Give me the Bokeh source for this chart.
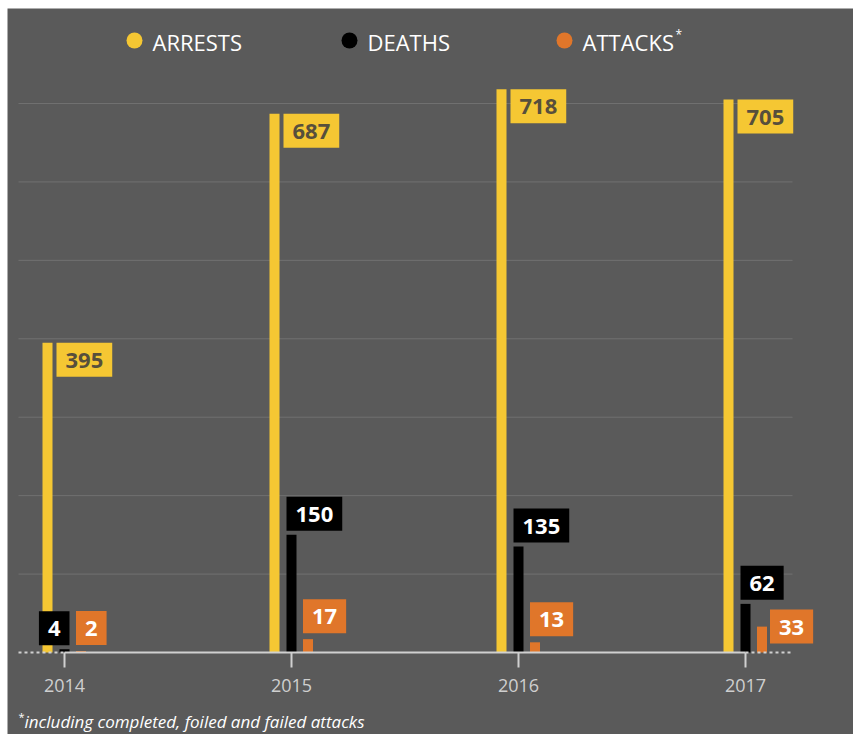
from bokeh.plotting import figure
from bokeh.models import Range1d, Label
from bokeh.embed import file_html
from bokeh.resources import INLINE

# ---------------- data ----------------
years = [2014, 2015, 2016, 2017]
arrests = [395, 687, 718, 705]
deaths = [4, 150, 135, 62]
attacks = [2, 17, 13, 33]
series_names = ["ARRESTS", "DEATHS", "ATTACKS"]
grid_values = [100, 200, 300, 400, 500, 600, 700]
footnote_text = "including completed, foiled and failed attacks"

# ---------------- style / layout (page pixels) ----------------
BG = "#5a5a5a"
GRID = "#717171"
YELLOW = "#f5c733"
BLACK = "#000000"
ORANGE = "#e0762a"
AXIS_GREY = "#d0d0d0"
FONT = "Open Sans"

W, H = 853, 734
M_TOP, M_LEFT = 8, 7
GRID_L, GRID_R = 18, 792
BASE_PX = 652          # pixel row of value 0
PX_PER_UNIT = 0.7843   # vertical pixels per value unit
X0_PX, YEAR_PX = 64, 227
BAR_PX = 10
OFFSETS_PX = [-17, 0, 16.5]


def xd(px):
    return years[0] + (px - X0_PX) / YEAR_PX


def yd(py):
    return (BASE_PX - py) / PX_PER_UNIT


p = figure(
    width=W - M_LEFT, height=H - M_TOP, margin=(M_TOP, 0, 0, M_LEFT),
    x_range=Range1d(xd(M_LEFT), xd(W)), y_range=Range1d(yd(H), yd(M_TOP)),
    output_backend="svg", toolbar_location=None,
    min_border=0, min_border_left=0, min_border_right=0,
    min_border_top=0, min_border_bottom=0,
    background_fill_color=BG, border_fill_color=BG,
)
p.outline_line_color = None
p.xaxis.visible = False
p.yaxis.visible = False
p.xgrid.visible = False
p.ygrid.visible = False

# horizontal grid lines
p.segment(x0=[xd(GRID_L)] * len(grid_values), x1=[xd(GRID_R)] * len(grid_values),
          y0=grid_values, y1=grid_values, line_color=GRID, line_width=1)

series = [arrests, deaths, attacks]
colors = [YELLOW, BLACK, ORANGE]
bar_w = BAR_PX / YEAR_PX
for vals, off, col in zip(series, OFFSETS_PX, colors):
    xs = [y + off / YEAR_PX for y in years]
    p.vbar(x=xs, top=vals, bottom=0, width=bar_w, fill_color=col, line_color=None)

# baseline: solid between first and last year, dotted outside
p.segment(x0=[years[0]], x1=[years[-1]], y0=[0], y1=[0], line_color=AXIS_GREY, line_width=2)
p.segment(x0=[xd(GRID_L), years[-1]], x1=[years[0], xd(GRID_R)], y0=[0, 0], y1=[0, 0],
          line_color=AXIS_GREY, line_width=2, line_dash="3 3")

# x ticks and year labels
p.segment(x0=years, x1=years, y0=[0] * 4, y1=[yd(667)] * 4, line_color=AXIS_GREY, line_width=2)
for y in years:
    p.add_layout(Label(x=y, y=yd(685), text=str(y), anchor="center",
                       text_font=FONT, text_font_size="18px", text_color="#cfcfcf"))

# value labels
text_cols = ["#574f3c", "#ffffff", "#ffffff"]
half = BAR_PX / 2
# placement per point: (anchor, x_offset, y_offset)
place = [
    [("top_left", half + 4, 0)] * 4,
    [("bottom_right", half, 4), ("bottom_left", -half, 4), ("bottom_left", -half, 4), ("bottom_left", -half, 4)],
    [("bottom_left", -half, 6), ("bottom_left", -half, 6), ("bottom_left", -half, 6), ("center_left", half + 3, 0)],
]
for vals, off, col, tcol, pl in zip(series, OFFSETS_PX, colors, text_cols, place):
    for y, v, (anc, xo, yo) in zip(years, vals, pl):
        p.add_layout(Label(
            x=y + off / YEAR_PX, y=v, text=str(v), anchor=anc, x_offset=xo, y_offset=yo,
            text_font=FONT, text_font_style="bold", text_font_size="22px", text_color=tcol,
            background_fill_color=col, background_fill_alpha=1.0,
            padding=dict(left=9, right=9, top=10, bottom=9),
        ))

# legend (manual)
leg_dot_px = [134, 349, 564]
p.scatter(x=[xd(d) for d in leg_dot_px], y=[yd(40)] * 3, size=16,
          fill_color=colors, line_color=None)
for name, dx in zip(series_names, leg_dot_px):
    p.add_layout(Label(x=xd(dx + 18), y=yd(41), text=name, anchor="center_left",
                       text_font=FONT, text_font_size="22px", text_color="#ffffff"))
p.add_layout(Label(x=xd(675), y=yd(34), text="*", anchor="center_left",
                   text_font=FONT, text_font_size="12px", text_color="#ffffff"))

# footnote
p.add_layout(Label(x=xd(18), y=yd(716), text="*", anchor="center_left",
                   text_font=FONT, text_font_size="11px", text_color="#ffffff"))
p.add_layout(Label(x=xd(24), y=yd(721), text=footnote_text, anchor="center_left",
                   text_font=FONT, text_font_style="italic", text_font_size="17px",
                   text_color="#ffffff"))

open("out.html", "w").write(file_html(p, INLINE))
